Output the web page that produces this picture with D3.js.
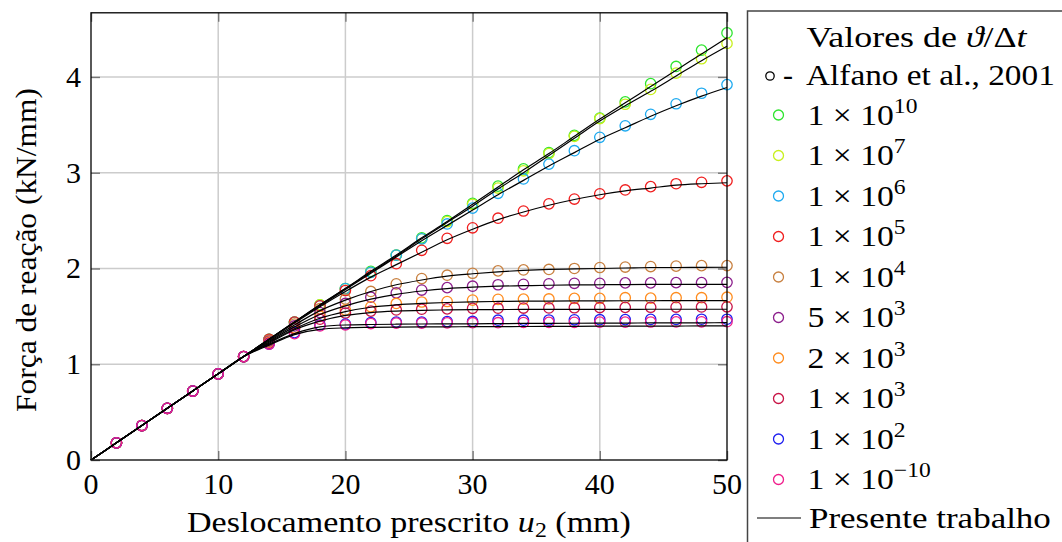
<!DOCTYPE html>
<html><head><meta charset="utf-8">
<script src="https://cdn.jsdelivr.net/npm/d3@7"></script>
<style>
body{margin:0;background:#fff}
text{font-family:"Liberation Serif","DejaVu Serif",serif;fill:#000}
</style>
</head><body>
<svg id="c" width="1062" height="542"></svg>
<script>
// ---------- data ----------
const xMarkers = [2,4,6,8,10,12,14,16,18,20,22,24,26,28,30,32,34,36,38,40,42,44,46,48,50];
const xLine    = [0,2,4,6,8,10,12,14,16,18,20,22,24,26,28,30,32,34,36,38,40,42,44,46,48,50];

const seriesNames  = ["1e10","1e7","1e6","1e5","1e4","5e3","2e3","1e3","1e2","1e-10"];
const seriesColors = ["#2ee52e","#c8f01e","#1eaaf0","#f01e1e","#c88040","#8c1e8c","#ff8c1e","#c81446","#1e1ef0","#f01e8c"];
const legendMant   = ["1","1","1","1","1","5","2","1","1","1"];
const legendExp    = ["10","7","6","5","4","3","3","3","2","\u221210"];

// Alfano et al., 2001 (markers)
const alf1e10  = [0.18,0.36,0.54,0.72,0.90,1.08,1.26,1.44,1.62,1.79,1.97,2.14,2.32,2.50,2.68,2.86,3.04,3.21,3.39,3.57,3.74,3.93,4.11,4.28,4.46];
const alf1e7   = [0.18,0.36,0.54,0.72,0.90,1.08,1.26,1.44,1.62,1.79,1.96,2.14,2.31,2.49,2.67,2.84,3.02,3.20,3.38,3.565,3.715,3.87,4.04,4.19,4.35];
const alf1e6   = [0.18,0.36,0.54,0.72,0.90,1.08,1.26,1.44,1.61,1.79,1.96,2.14,2.31,2.465,2.63,2.785,2.935,3.09,3.23,3.37,3.49,3.61,3.72,3.83,3.92];
const alf1e5   = [0.18,0.36,0.54,0.72,0.90,1.08,1.26,1.44,1.61,1.77,1.925,2.05,2.19,2.315,2.425,2.525,2.60,2.675,2.725,2.78,2.82,2.855,2.885,2.90,2.915];
const alf1e4   = [0.18,0.36,0.54,0.72,0.90,1.08,1.25,1.42,1.58,1.68,1.76,1.84,1.895,1.93,1.95,1.975,1.985,1.99,2.00,2.01,2.015,2.02,2.025,2.03,2.03];
const alf5e3   = [0.18,0.36,0.54,0.72,0.90,1.08,1.24,1.40,1.54,1.635,1.70,1.745,1.775,1.80,1.815,1.83,1.835,1.84,1.845,1.845,1.85,1.85,1.852,1.852,1.855];
const alf2e3   = [0.18,0.36,0.54,0.72,0.90,1.08,1.23,1.38,1.50,1.565,1.60,1.635,1.65,1.655,1.67,1.678,1.68,1.682,1.688,1.688,1.695,1.69,1.695,1.695,1.70];
const alf1e3   = [0.18,0.36,0.54,0.72,0.90,1.08,1.22,1.37,1.47,1.535,1.555,1.567,1.575,1.578,1.584,1.585,1.587,1.588,1.59,1.592,1.594,1.595,1.597,1.598,1.60];
const alf1e2   = [0.18,0.36,0.54,0.72,0.90,1.08,1.21,1.33,1.41,1.42,1.435,1.44,1.44,1.445,1.447,1.46,1.46,1.462,1.464,1.465,1.466,1.468,1.468,1.47,1.47];
const alf1em10 = [0.18,0.36,0.54,0.72,0.90,1.08,1.21,1.32,1.40,1.41,1.425,1.43,1.43,1.432,1.434,1.434,1.436,1.437,1.438,1.44,1.44,1.441,1.442,1.443,1.444];

// Presente trabalho (lines)
const pt1e10  = [0,0.18,0.36,0.54,0.72,0.90,1.08,1.26,1.44,1.62,1.79,1.97,2.14,2.32,2.49,2.67,2.85,3.03,3.20,3.38,3.56,3.73,3.90,4.07,4.24,4.41];
const pt1e7   = [0,0.18,0.36,0.54,0.72,0.90,1.08,1.26,1.44,1.62,1.79,1.96,2.13,2.31,2.48,2.65,2.83,3.00,3.18,3.36,3.54,3.70,3.85,4.01,4.17,4.32];
const pt1e6   = [0,0.18,0.36,0.54,0.72,0.90,1.08,1.26,1.44,1.61,1.78,1.95,2.12,2.29,2.45,2.61,2.77,2.92,3.07,3.21,3.35,3.47,3.59,3.70,3.80,3.89];
const pt1e5   = [0,0.18,0.36,0.54,0.72,0.90,1.08,1.26,1.43,1.60,1.76,1.91,2.04,2.17,2.30,2.41,2.51,2.59,2.66,2.72,2.77,2.81,2.84,2.87,2.885,2.895];
const pt1e4   = [0,0.18,0.36,0.54,0.72,0.90,1.08,1.25,1.41,1.56,1.67,1.76,1.83,1.88,1.92,1.945,1.965,1.98,1.99,1.995,2.00,2.005,2.01,2.01,2.012,2.013];
const pt5e3   = [0,0.18,0.36,0.54,0.72,0.90,1.08,1.24,1.39,1.52,1.61,1.68,1.73,1.765,1.79,1.805,1.815,1.82,1.825,1.828,1.83,1.832,1.833,1.834,1.835,1.835];
const pt2e3   = [0,0.18,0.36,0.54,0.72,0.90,1.08,1.23,1.37,1.48,1.55,1.595,1.62,1.635,1.645,1.652,1.656,1.659,1.66,1.661,1.662,1.663,1.663,1.664,1.664,1.664];
const pt1e3   = [0,0.18,0.36,0.54,0.72,0.90,1.08,1.22,1.36,1.45,1.51,1.54,1.555,1.563,1.567,1.57,1.571,1.572,1.572,1.573,1.573,1.573,1.574,1.574,1.574,1.574];
const pt1e2   = [0,0.18,0.36,0.54,0.72,0.90,1.08,1.21,1.32,1.39,1.41,1.415,1.418,1.42,1.421,1.422,1.424,1.426,1.427,1.428,1.429,1.43,1.431,1.432,1.433,1.434];
const pt1em10 = [0,0.18,0.36,0.54,0.72,0.90,1.08,1.20,1.31,1.365,1.38,1.385,1.388,1.39,1.391,1.392,1.393,1.394,1.395,1.396,1.397,1.398,1.398,1.399,1.40,1.40];

const xTicks = [0,10,20,30,40,50];
const yTicks = [0,1,2,3,4];

const alfano = [alf1e10,alf1e7,alf1e6,alf1e5,alf1e4,alf5e3,alf2e3,alf1e3,alf1e2,alf1em10];
const presente = [pt1e10,pt1e7,pt1e6,pt1e5,pt1e4,pt5e3,pt2e3,pt1e3,pt1e2,pt1em10];

// ---------- layout ----------
const svg = d3.select("#c");
const L = 91, R = 727, T = 12.8, B = 460;
const FS = 30;
const x = d3.scaleLinear().domain([0,50]).range([L,R]);
const y = d3.scaleLinear().domain([0,4.67]).range([B,T]);

// stretch a text horizontally to a target width about an anchor x
function fitX(sel, target, ax){
  const w = sel.node().getBBox().width;
  const s = target / w;
  sel.attr("transform",`translate(${ax},0) scale(${s},1) translate(${-ax},0)`);
  return s;
}

// grid
const g = svg.append("g");
g.selectAll(".gx").data(xTicks.slice(1,-1)).join("line")
  .attr("x1",d=>x(d)).attr("x2",d=>x(d)).attr("y1",T).attr("y2",B)
  .attr("stroke","#cccccc").attr("stroke-width",1.5);
g.selectAll(".gy").data(yTicks.slice(1)).join("line")
  .attr("y1",d=>y(d)).attr("y2",d=>y(d)).attr("x1",L).attr("x2",R)
  .attr("stroke","#cccccc").attr("stroke-width",1.5);

// markers
alfano.forEach((arr,i)=>{
  svg.append("g").selectAll("circle").data(arr).join("circle")
    .attr("cx",(d,j)=>x(xMarkers[j])).attr("cy",d=>y(d)).attr("r",5.2)
    .attr("fill","none").attr("stroke",seriesColors[i]).attr("stroke-width",1.3);
});

// lines
const line = d3.line().x((d,j)=>x(xLine[j])).y(d=>y(d)).curve(d3.curveMonotoneX);
presente.forEach(arr=>{
  svg.append("path").attr("d",line(arr)).attr("fill","none")
    .attr("stroke","#000").attr("stroke-width",1.2);
});

// axes with ticks inward on all sides
const tickLen = 9;
const axB = svg.append("g").attr("transform",`translate(0,${B})`)
  .call(d3.axisBottom(x).tickValues(xTicks).tickSize(-tickLen).tickFormat(""));
const axT = svg.append("g").attr("transform",`translate(0,${T})`)
  .call(d3.axisTop(x).tickValues(xTicks).tickSize(-tickLen).tickFormat(""));
const axL = svg.append("g").attr("transform",`translate(${L},0)`)
  .call(d3.axisLeft(y).tickValues(yTicks).tickSize(-tickLen).tickFormat(""));
const axR = svg.append("g").attr("transform",`translate(${R},0)`)
  .call(d3.axisRight(y).tickValues(yTicks).tickSize(-tickLen).tickFormat(""));
[axB,axT,axL,axR].forEach(a=>{
  a.select(".domain").remove();
  a.selectAll(".tick line").attr("stroke","#777").attr("stroke-width",1.4);
});
// frame
svg.append("rect").attr("x",L).attr("y",T).attr("width",R-L).attr("height",B-T)
  .attr("fill","none").attr("stroke","#000").attr("stroke-width",1.3);

// tick labels
svg.append("g").selectAll("text").data(xTicks).join("text")
  .attr("x",d=>x(d)).attr("y",494).attr("text-anchor","middle")
  .attr("font-size",FS).text(d=>d);
svg.append("g").selectAll("text").data(yTicks).join("text")
  .attr("x",81).attr("y",d=>y(d)+10).attr("text-anchor","end")
  .attr("font-size",FS).text(d=>d);

// axis labels
const xl = svg.append("text").attr("x",(L+R)/2).attr("y",532).attr("text-anchor","middle").attr("font-size",FS);
xl.append("tspan").text("Deslocamento prescrito ");
xl.append("tspan").attr("font-style","italic").text("u");
xl.append("tspan").attr("font-size",21).attr("dy",5).text("2");
xl.append("tspan").attr("dy",-5).text(" (mm)");
fitX(xl, 444, (L+R)/2);

const yl = svg.append("text").attr("x",0).attr("y",0)
  .attr("text-anchor","middle").attr("font-size",FS).text("Força de reação (kN/mm)");
const yw = yl.node().getBBox().width;
yl.attr("transform",`translate(36,250) rotate(-90) scale(${324/yw},1)`);

// legend
const lg = svg.append("g");
lg.append("rect").attr("x",747.5).attr("y",11).attr("width",330).attr("height",545)
  .attr("fill","#fff").attr("stroke","#444").attr("stroke-width",1.5);
const tt = lg.append("text").attr("x",916.5).attr("y",47).attr("text-anchor","middle").attr("font-size",FS);
tt.append("tspan").text("Valores de ");
tt.append("tspan").attr("font-style","italic").text("\u03D1");
tt.append("tspan").text("/\u0394");
tt.append("tspan").attr("font-style","italic").text("t");
fitX(tt, 221, 916.5);

lg.append("circle").attr("cx",770).attr("cy",76).attr("r",4.2).attr("fill","none").attr("stroke","#000").attr("stroke-width",1.3);
lg.append("text").attr("x",783).attr("y",85).attr("font-size",FS).text("-");
const alfT = lg.append("text").attr("x",806).attr("y",85).attr("font-size",FS).text("Alfano et al., 2001");
fitX(alfT, 249, 806);

const rowY = i => 115 + 40.5*i;
let rowScale = null;
seriesNames.forEach((n,i)=>{
  lg.append("circle").attr("cx",778.5).attr("cy",rowY(i)).attr("r",5)
    .attr("fill","none").attr("stroke",seriesColors[i]).attr("stroke-width",1.3);
  const t = lg.append("text").attr("x",807.5).attr("y",rowY(i)+10).attr("font-size",FS);
  t.append("tspan").text(legendMant[i]+" \u00D7 10");
  t.append("tspan").attr("font-size",21).attr("dy",-12).text(legendExp[i]);
  if (rowScale === null) rowScale = fitX(t, 110, 807.5);
  else t.attr("transform",`translate(807.5,0) scale(${rowScale},1) translate(-807.5,0)`);
});
lg.append("line").attr("x1",757).attr("x2",801).attr("y1",518).attr("y2",518).attr("stroke","#000").attr("stroke-width",1.2);
const ptT = lg.append("text").attr("x",809).attr("y",528).attr("font-size",FS).text("Presente trabalho");
fitX(ptT, 242, 809);
</script>
</body></html>
